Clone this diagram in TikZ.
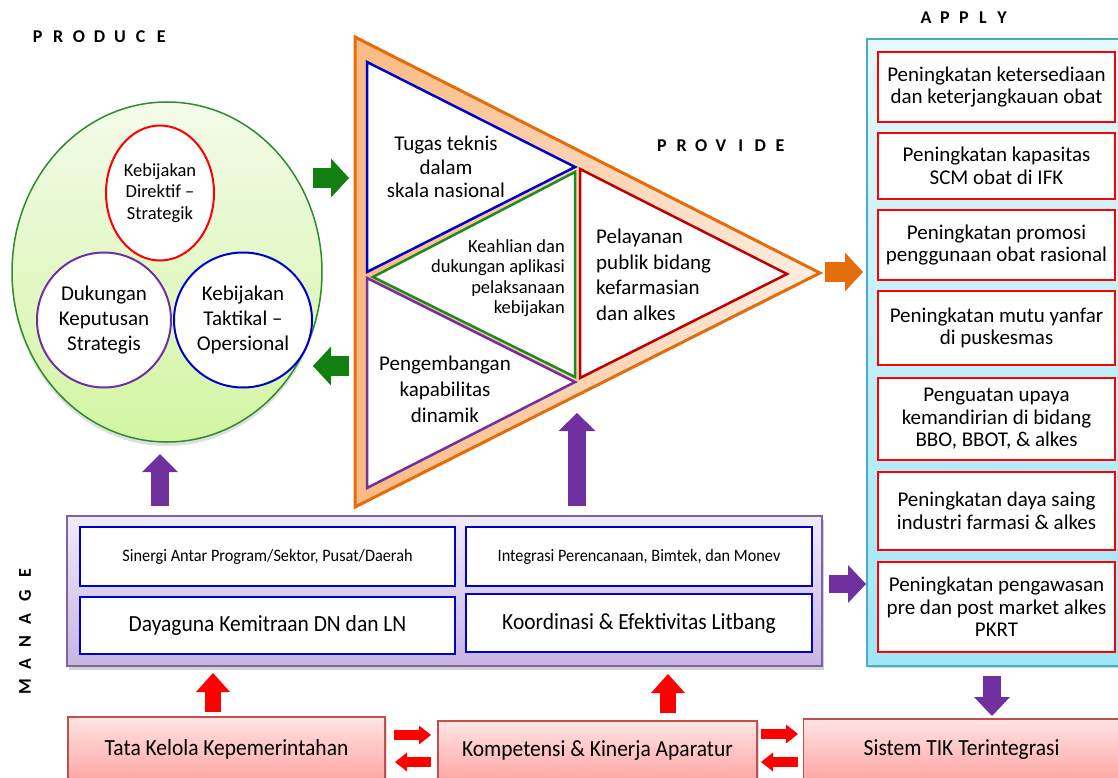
\documentclass[tikz,border=0pt]{standalone}
\usepackage{fontspec}
\setmainfont{Carlito}
\newfontfamily\condf{Carlito}[FakeStretch=0.93]
\usetikzlibrary{arrows.meta,shapes.geometric,shadows}
\definecolor{gbord}{HTML}{2E8B2E}
\definecolor{gtop}{HTML}{F3FBEA}
\definecolor{gbot}{HTML}{D3F5A2}
\definecolor{garr}{HTML}{118011}
\definecolor{orng}{HTML}{E46C0A}
\definecolor{peachL}{HTML}{FAB983}
\definecolor{peachR}{HTML}{FDEEE2}
\definecolor{tblue}{HTML}{0000CC}
\definecolor{tgreen}{HTML}{1E8A1E}
\definecolor{tpurple}{HTML}{7030A0}
\definecolor{tred}{HTML}{C00000}
\definecolor{purp}{HTML}{7030A0}
\definecolor{mbord}{HTML}{8064A2}
\definecolor{mtop}{HTML}{F0ECF8}
\definecolor{mbot}{HTML}{C6B5E2}
\definecolor{abord}{HTML}{4BACC6}
\definecolor{atop}{HTML}{E6F8FD}
\definecolor{abot}{HTML}{9DE6F8}
\definecolor{pbord}{HTML}{C0504D}
\definecolor{ptop}{HTML}{FFE4E4}
\definecolor{pbot}{HTML}{FFA5A5}
\definecolor{rarr}{HTML}{FF0000}
\newcommand\lsp[2]{\makebox[#1pt]{#2}}
\begin{document}
\begin{tikzpicture}[x=1pt,y=-1pt,
  blockarr/.style n args={4}{draw=#1, line width=#2, -{Triangle[width=#3,length=#4,line width=0pt]}},
  applybox/.style={draw=red, line width=2pt, fill=white, minimum width=237pt, align=center, font=\fontsize{21}{22.5}\selectfont, inner sep=0pt},
  mbox/.style={draw=tblue, line width=1.8pt, fill=white, align=center, inner sep=0pt},
  bbox/.style={draw=pbord, line width=1.2pt, top color=ptop, bottom color=pbot, font=\condf\fontsize{23.1}{25}\selectfont, inner sep=0pt, drop shadow={opacity=0.3}},
  title/.style={font=\fontsize{18}{20}\selectfont\bfseries, inner sep=0pt},
  txt/.style={align=center, inner sep=0pt}]
\clip (0,0) rectangle (1118,778);
\fill[white] (0,0) rectangle (1118,778);

% ---------- titles
\node[title] (produce) at (99.5,37) {\lsp{20.6}{P}\lsp{20.6}{R}\lsp{20.6}{O}\lsp{20.6}{D}\lsp{20.6}{U}\lsp{20.6}{C}\lsp{20.6}{E}};
\node[title] (provide) at (721,146) {\lsp{19.7}{P}\lsp{19.7}{R}\lsp{19.7}{O}\lsp{19.7}{V}\lsp{19.7}{I}\lsp{19.7}{D}\lsp{19.7}{E}};
\node[title] (applyt) at (964,18) {\lsp{19}{A}\lsp{19}{P}\lsp{19}{P}\lsp{19}{L}\lsp{19}{Y}};
\node[title, rotate=90] (manage) at (25,630) {\lsp{22.8}{M}\lsp{22.8}{A}\lsp{22.8}{N}\lsp{22.8}{A}\lsp{22.8}{G}\lsp{22.8}{E}};

% ---------- produce
\node[ellipse, draw=gbord, line width=1.5pt, top color=gtop, bottom color=gbot, minimum width=310pt, minimum height=340pt, drop shadow={opacity=0.25, shadow xshift=0pt, shadow yshift=-4pt}] (prod) at (167,272) {};
\node[ellipse, draw=red, line width=2pt, fill=white, minimum width=108pt, minimum height=135pt, txt, font=\fontsize{18.5}{21.5}\selectfont] (direktif) at (160,193) {Kebijakan\\Direktif –\\Strategik};
\node[ellipse, draw=tpurple, line width=2pt, fill=white, minimum width=134pt, minimum height=135pt, txt, font=\fontsize{21}{25}\selectfont] (dukungan) at (104,320) {Dukungan\\Keputusan\\Strategis};
\node[ellipse, draw=tblue, line width=2pt, fill=white, minimum width=138pt, minimum height=135pt, txt, font=\fontsize{21}{25}\selectfont] (taktikal) at (243,320) {Kebijakan\\Taktikal –\\Opersional};

% ---------- provide triangle
\path[draw=orng, line width=3pt, left color=peachL, right color=peachR, line join=miter] (355,37) -- (820,273) -- (355,507) -- cycle;
\draw[tblue, line width=2.5pt, fill=white, line join=miter] (367,62) -- (575,167) -- (367,272) -- cycle;
\draw[tgreen, line width=2.5pt, fill=white, line join=miter] (373,277) -- (575,172) -- (575,377) -- cycle;
\draw[tpurple, line width=2.5pt, fill=white, line join=miter] (367,278) -- (575,382) -- (367,488) -- cycle;
\draw[tred, line width=2.5pt, fill=white, line join=miter] (580,169) -- (787,274) -- (580,378) -- cycle;
\node[txt, font=\fontsize{21}{23.5}\selectfont] (tugas) at (446,167) {Tugas teknis\\dalam\\skala nasional};
\node[txt, align=right, anchor=east, font=\fontsize{18.5}{20.5}\selectfont] (keahlian) at (565,278) {Keahlian dan\\dukungan aplikasi\\pelaksanaan\\kebijakan};
\node[txt, align=left, anchor=west, font=\fontsize{21}{25.5}\selectfont] (pelayanan) at (596,275) {Pelayanan\\publik bidang\\kefarmasian\\dan alkes};
\node[txt, font=\fontsize{21}{26}\selectfont] (pengembangan) at (445,389) {Pengembangan\\kapabilitas\\dinamik};

% ---------- apply
\node[draw=abord, line width=2pt, top color=atop, bottom color=abot, minimum width=259pt, minimum height=627pt, anchor=north west, inner sep=0pt, drop shadow={opacity=0.3}] (apply) at (866,38) {};
\node[applybox, minimum height=70pt] (a1) at (996.5,87) {Peningkatan ketersediaan\\dan keterjangkauan obat};
\node[applybox, minimum height=66pt] (a2) at (996.5,166) {Peningkatan kapasitas\\SCM obat di IFK};
\node[applybox, minimum height=70pt] (a3) at (996.5,245) {Peningkatan promosi\\penggunaan obat rasional};
\node[applybox, minimum height=74pt] (a4) at (996.5,328) {Peningkatan mutu yanfar\\di puskesmas};
\node[applybox, minimum height=82pt] (a5) at (996.5,419) {Penguatan upaya\\kemandirian di bidang\\BBO, BBOT, \& alkes};
\node[applybox, minimum height=78pt] (a6) at (996.5,511) {Peningkatan daya saing\\industri farmasi \& alkes};
\node[applybox, minimum height=90pt] (a7) at (996.5,607) {Peningkatan pengawasan\\pre dan post market alkes\\PKRT};

% ---------- manage
\node[draw=mbord, line width=1.5pt, top color=mtop, bottom color=mbot, minimum width=755pt, minimum height=150pt, anchor=north west, inner sep=0pt, drop shadow={opacity=0.35, shadow xshift=2pt, shadow yshift=-4pt}] (managebox) at (66,515) {};
\node[mbox, minimum width=375pt, minimum height=59pt, font=\condf\fontsize{17.5}{19}\selectfont] (m1) at (267.5,556.5) {Sinergi Antar Program/Sektor, Pusat/Daerah};
\node[mbox, minimum width=346pt, minimum height=59pt, font=\condf\fontsize{17.5}{19}\selectfont] (m2) at (639,556.5) {Integrasi Perencanaan, Bimtek, dan Monev};
\node[mbox, minimum width=375pt, minimum height=57pt, font=\condf\fontsize{23.1}{25}\selectfont] (m3) at (267.5,625.5) {Dayaguna Kemitraan DN dan LN};
\node[mbox, minimum width=346pt, minimum height=58pt, font=\condf\fontsize{23.1}{25}\selectfont] (m4) at (639,623) {Koordinasi \& Efektivitas Litbang};

% ---------- bottom boxes
\node[bbox, minimum width=317pt, minimum height=64pt] (b1) at (226.5,749) {Tata Kelola Kepemerintahan};
\node[bbox, minimum width=319pt, minimum height=60pt] (b2) at (597.5,751) {Kompetensi \& Kinerja Aparatur};
\node[bbox, minimum width=322pt, minimum height=62pt, anchor=west] (b3) at (803,750) {\hspace*{-6pt}Sistem TIK Terintegrasi};

% ---------- block arrows
\coordinate (g1a) at (313,178); \coordinate (g1b) at (349,178);
\coordinate (g2a) at (349,366); \coordinate (g2b) at (313,366);
\coordinate (o1a) at (825,272); \coordinate (o1b) at (863,272);
\coordinate (p1a) at (160,506); \coordinate (p1b) at (160,454);
\coordinate (p2a) at (577,506); \coordinate (p2b) at (577,413);
\coordinate (p3a) at (829,584); \coordinate (p3b) at (866,584);
\coordinate (p4a) at (992,676); \coordinate (p4b) at (992,716);
\coordinate (r1a) at (213,712); \coordinate (r1b) at (213,673);
\coordinate (r2a) at (668,713); \coordinate (r2b) at (668,674);
\coordinate (s1a) at (394,735); \coordinate (s1b) at (431,735);
\coordinate (s2a) at (431,762); \coordinate (s2b) at (395,762);
\coordinate (s3a) at (761,734); \coordinate (s3b) at (798,734);
\coordinate (s4a) at (798,762); \coordinate (s4b) at (761,762);
\draw[blockarr={garr}{20pt}{39pt}{18pt}] (g1a) -- (g1b);
\draw[blockarr={garr}{20pt}{39pt}{18pt}] (g2a) -- (g2b);
\draw[blockarr={orng}{20pt}{39pt}{18pt}] (o1a) -- (o1b);
\draw[blockarr={purp}{18pt}{36pt}{18pt}] (p1a) -- (p1b);
\draw[blockarr={purp}{18pt}{37pt}{18pt}] (p2a) -- (p2b);
\draw[blockarr={purp}{18pt}{38pt}{18pt}] (p3a) -- (p3b);
\draw[blockarr={purp}{18pt}{36pt}{19pt}] (p4a) -- (p4b);
\draw[blockarr={rarr}{16.5pt}{34pt}{19pt}] (r1a) -- (r1b);
\draw[blockarr={rarr}{16.5pt}{34pt}{19pt}] (r2a) -- (r2b);
\draw[blockarr={rarr}{10pt}{19pt}{12pt}] (s1a) -- (s1b);
\draw[blockarr={rarr}{10pt}{19pt}{12pt}] (s2a) -- (s2b);
\draw[blockarr={rarr}{10pt}{19pt}{12pt}] (s3a) -- (s3b);
\draw[blockarr={rarr}{10pt}{19pt}{12pt}] (s4a) -- (s4b);
\end{tikzpicture}
\end{document}
